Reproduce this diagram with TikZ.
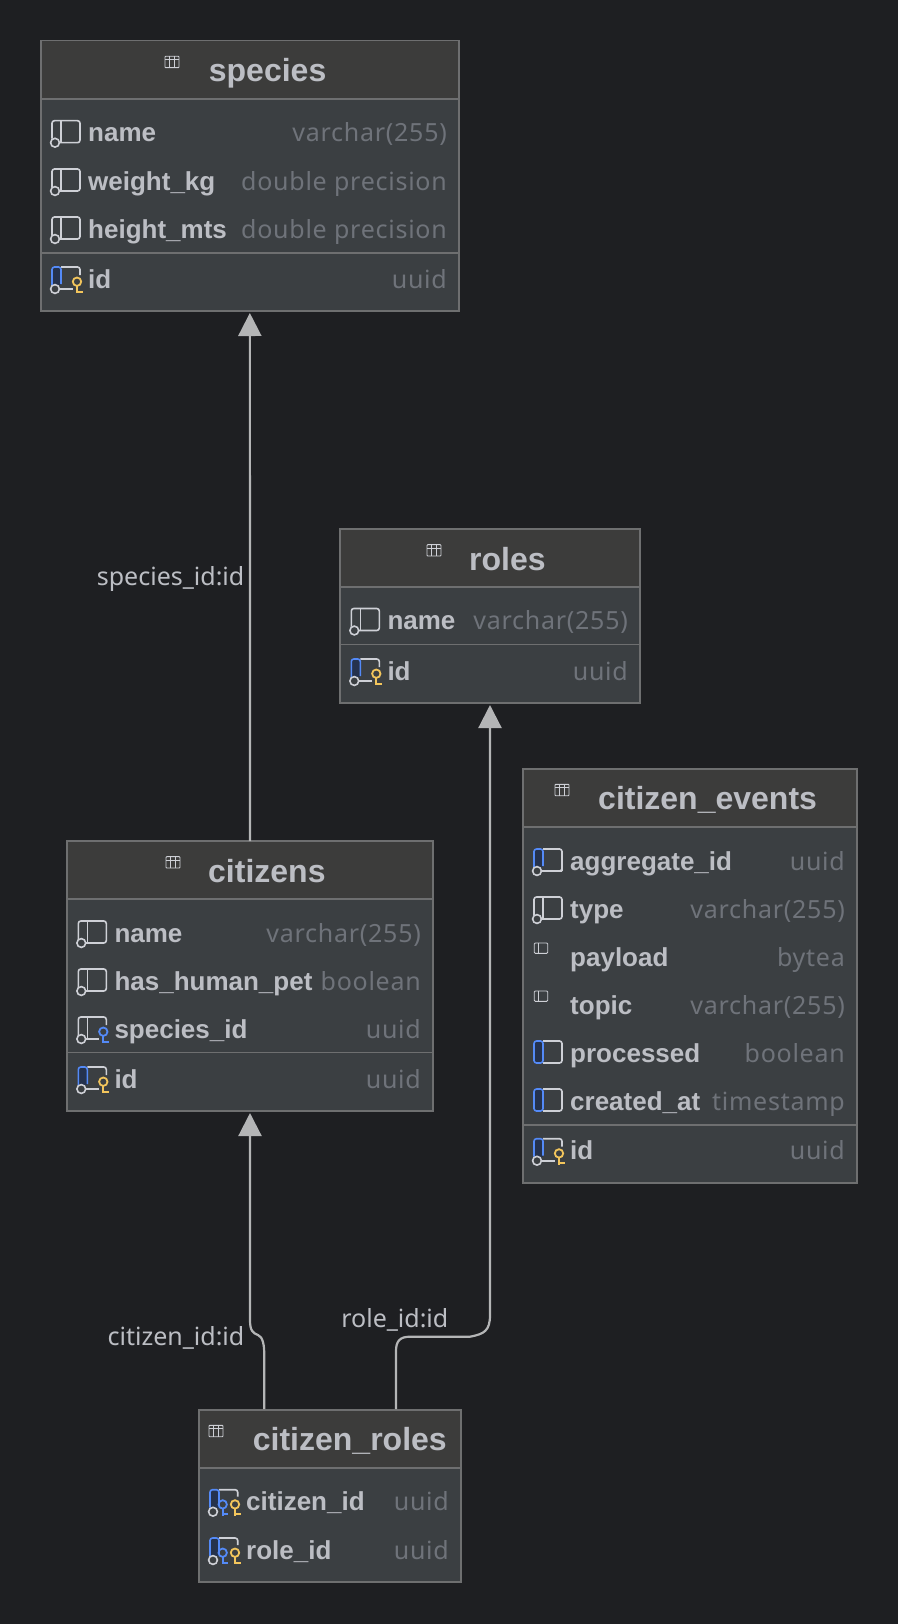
\documentclass[tikz,border=0pt]{standalone}
\usepackage{fontspec}
\setmainfont{Noto Sans}
\newfontfamily\typefont[LetterSpace=3]{Noto Sans}
\newfontfamily\namefont{Liberation Sans}
\usetikzlibrary{arrows.meta}
\definecolor{pagebg}{HTML}{1E1F22}
\definecolor{bodybg}{HTML}{3B3F42}
\definecolor{headbg}{HTML}{3C3C3B}
\definecolor{edgegray}{HTML}{6E6F70}
\definecolor{textgray}{HTML}{BCBEC4}
\definecolor{typegray}{HTML}{6F737A}
\definecolor{icongray}{HTML}{CED0D6}
\definecolor{keyblue}{HTML}{548AF7}
\definecolor{colblue}{HTML}{25324D}
\definecolor{keyyellow}{HTML}{F2C55C}
\definecolor{fkgray}{HTML}{B4B5B6}
\tikzset{
  dbbox/.style={fill=bodybg,inner sep=0,outer sep=0},
  dbline/.style={draw=edgegray,line width=1.6pt},
  dbtitle/.style={anchor=base west,inner sep=0,text=textgray,font=\fontsize{32}{32}\namefont\bfseries},
  dbname/.style={anchor=base west,inner sep=0,text=textgray,font=\fontsize{26}{26}\namefont\bfseries},
  dbtype/.style={anchor=base east,inner sep=0,text=typegray,font=\fontsize{25}{25}\typefont},
  fklabel/.style={inner sep=0,text=textgray,font=\fontsize{25}{25}\selectfont},
  fkline/.style={draw=fkgray,line width=2.2pt,-{Triangle[length=23pt,width=23pt,fill=fkgray]},shorten >=2pt},
  iconline/.style={draw=icongray,line width=1.6pt},
  blueline/.style={draw=keyblue,line width=1.6pt},
  colplain/.pic={\draw[iconline,rounded corners=2.5pt](11.3,6)--(11.3,-12)--(39.3,-12)--(39.3,10)--(18.3,10);
    \draw[iconline](20.3,-12)--(20.3,10);\draw[iconline](14.3,10)circle(4.4);},
  colpk/.pic={\iconpart{32}{-4}\iconkey{36.3}{keyyellow}},
  colfk/.pic={\draw[iconline,rounded corners=2.5pt](11.3,6)--(11.3,-12)--(39.3,-12)--(39.3,-4);
    \draw[iconline](18.3,10)--(32,10);\draw[iconline](20.3,-12)--(20.3,10);\draw[iconline](14.3,10)circle(4.4);\iconkey{36.3}{keyblue}},
  colnn/.pic={\iconpart{39.3}{10}\draw[iconline,rounded corners=2.5pt](39.3,-4)--(39.3,10)--(20.3,10);},
  colblue/.pic={\fill[colblue](11.3,-12)rectangle(20.3,10);
    \draw[iconline,rounded corners=2.5pt](20.3,-12)--(39.3,-12)--(39.3,10)--(20.3,10);
    \draw[blueline,rounded corners=2.5pt](20.3,-12)--(11.3,-12)--(11.3,10)--(20.3,10)--cycle;},
  colsmall/.pic={\draw[icongray,line width=.9pt,rounded corners=1pt](11.5,-14)rectangle(25,-3.7);\draw[icongray,line width=.9pt](16,-14)--(16,-3.7);},
  colpkfk/.pic={\fill[colblue](11.3,-12)rectangle(20.3,6);\draw[iconline,rounded corners=2.5pt](20.3,-12)--(39,-12)--(39,-5);
    \draw[blueline,rounded corners=2.5pt](20.3,4)--(20.3,-12)--(11.3,-12)--(11.3,6);\draw[iconline](14.3,10)circle(4.4);
    \iconkey{24}{keyblue}\iconkey{36.3}{keyyellow}},
}
\newcommand{\iconpart}[2]{\fill[colblue](11.3,-12)rectangle(20.3,6);
  \draw[iconline,rounded corners=2.5pt](20.3,-12)--(39.3,-12)--(39.3,#2);\draw[iconline](18.3,10)--(#1,10);
  \draw[blueline,rounded corners=2.5pt](20.3,5)--(20.3,-12)--(11.3,-12)--(11.3,6);\draw[iconline](14.3,10)circle(4.4);}
\newcommand{\iconkey}[2]{\draw[draw=#2,line width=1.8pt](#1,2.7)circle(4.2);
  \draw[draw=#2,line width=2pt](#1,6.9)--(#1,14)(#1,12.6)--(#1+5.5,12.6);}
\newcommand{\dbtable}[9]{
  \node[dbbox,minimum width={#4-#2},minimum height={#5-#3}](#1)at({(#2+#4)/2},{(#3+#5)/2}){};
  \fill[headbg](#2,#3)rectangle(#4,#6);
  \draw[dbline](#1.south west)rectangle(#1.north east);
  \draw[dbline](#2,#6)--(#4,#6);
  \draw[icongray,line width=.9pt,rounded corners=.8pt](#7,#3+15.6)rectangle(#7+14,#3+27);
  \draw[icongray,line width=.9pt](#7,#3+19)--(#7+14,#3+19)(#7+4.7,#3+15.6)--(#7+4.7,#3+27)(#7+9.3,#3+15.6)--(#7+9.3,#3+27);
  \node[dbtitle](#1-title)at(#8,#3+41){#9};
}
\newcommand{\dbrows}[4]{
  \foreach \y/\ic/\nm/\ty [count=\i] in {#4}{
    \pic at(#2,\y){\ic};
    \node[dbname](#1-name-\i)at(#2+47.3,\y+9){\nm};
    \node[dbtype](#1-type-\i)at(#3-12,\y+9){\ty};
  }
}
\begin{document}
\begin{tikzpicture}[x=1pt,y=-1pt]
\useasboundingbox(0,0)rectangle(898,1624);
\fill[pagebg](0,0)rectangle(898,1624);
\dbtable{species}{40.7}{40.7}{459}{311}{99}{165}{208.7}{species}
\dbrows{species}{40.7}{459}{132.7/colplain/name/varchar(255),181/colplain/weight\_kg/double precision,229/colplain/height\_mts/double precision,279/colpk/id/uuid}
\draw[dbline](40.7,252.7)--(459,252.7);
\dbtable{roles}{340}{529}{640}{703}{587}{427}{469}{roles}
\dbrows{roles}{340}{640}{620.5/colplain/name/varchar(255),671/colpk/id/uuid}
\draw[dbline](340,644.5)--(640,644.5);
\dbtable{citizens}{67}{841}{433}{1111}{899}{166}{208}{citizens}
\dbrows{citizens}{67}{433}{933/colplain/name/varchar(255),981/colplain/has\_human\_pet/boolean,1029/colfk/species\_id/uuid,1079/colpk/id/uuid}
\draw[dbline](67,1052.5)--(433,1052.5);
\dbtable{events}{522.7}{768.7}{857}{1183}{826.7}{555}{598}{citizen\_events}
\dbrows{events}{522.7}{857}{861/colnn/aggregate\_id/uuid,909/colplain/type/varchar(255),957/colsmall/payload/bytea,1005/colsmall/topic/varchar(255),1053/colblue/processed/boolean,1101/colblue/created\_at/timestamp,1150.7/colpk/id/uuid}
\draw[dbline](522.7,1125)--(857,1125);
\dbtable{croles}{198.7}{1409.7}{461}{1582}{1468}{209}{252.7}{citizen\_roles}
\dbrows{croles}{198.7}{461}{1501.7/colpkfk/citizen\_id/uuid,1550/colpkfk/role\_id/uuid}
\coordinate(crcitizen)at(264.3,1409);
\coordinate(crrole)at(396,1409);
\draw[fkline](citizens.north)--(species.south);
\draw[fkline](crcitizen)--(264.3,1356)..controls(264.3,1345)and(263,1337)..(258,1335)..controls(253,1333)and(250,1331)..(250,1320)--(citizens.south);
\draw[fkline](crrole)--(396,1351)..controls(396,1341)and(400,1336.7)..(410,1336.7)--(470,1336.7)..controls(484,1334)and(490,1331)..(490,1315)--(roles.south);
\node[fklabel,anchor=base east](lspecies)at(244.5,585){species\_id:id};
\node[fklabel,anchor=base east](lcitizen)at(244.5,1345){citizen\_id:id};
\node[fklabel,anchor=base east](lrole)at(448.5,1327){role\_id:id};
\end{tikzpicture}
\end{document}
